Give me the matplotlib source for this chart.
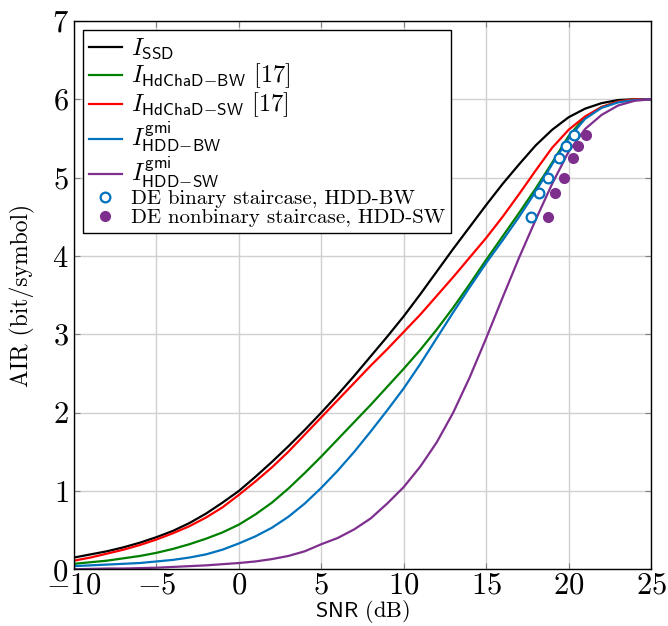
import matplotlib
matplotlib.use("Agg")
import matplotlib.pyplot as plt

plt.rcParams['font.family'] = ['cmr10']
plt.rcParams['mathtext.fontset'] = 'cm'
plt.rcParams['axes.formatter.use_mathtext'] = True
plt.rcParams['axes.unicode_minus'] = True

# SNR grid (dB)
snr = list(range(-10, 26))

# AIR curves (bit/symbol)
air_ssd = [0.15, 0.19, 0.23, 0.28, 0.34, 0.41, 0.49, 0.59, 0.71, 0.85,
           1.00, 1.18, 1.37, 1.57, 1.78, 2.00, 2.23, 2.47, 2.72, 2.97,
           3.23, 3.51, 3.80, 4.09, 4.37, 4.65, 4.92, 5.17, 5.41, 5.61,
           5.77, 5.88, 5.95, 5.99, 6.00, 6.00]
air_hdchad_bw = [0.07, 0.09, 0.11, 0.14, 0.17, 0.21, 0.26, 0.32, 0.39, 0.47,
                 0.57, 0.70, 0.85, 1.03, 1.23, 1.44, 1.66, 1.88, 2.10, 2.33,
                 2.56, 2.80, 3.06, 3.34, 3.64, 3.95, 4.25, 4.55, 4.86, 5.19,
                 5.53, 5.77, 5.90, 5.97, 6.00, 6.00]
air_hdchad_sw = [0.11, 0.15, 0.20, 0.25, 0.31, 0.38, 0.46, 0.55, 0.66, 0.79,
                 0.95, 1.12, 1.30, 1.50, 1.72, 1.94, 2.16, 2.38, 2.60, 2.81,
                 3.03, 3.25, 3.49, 3.73, 3.98, 4.23, 4.50, 4.79, 5.09, 5.38,
                 5.61, 5.78, 5.90, 5.97, 6.00, 6.00]
air_gmi_bw = [0.04, 0.05, 0.06, 0.07, 0.08, 0.10, 0.12, 0.15, 0.19, 0.25,
              0.33, 0.42, 0.53, 0.67, 0.84, 1.04, 1.26, 1.50, 1.76, 2.03,
              2.31, 2.62, 2.95, 3.28, 3.60, 3.91, 4.20, 4.50, 4.82, 5.17,
              5.50, 5.75, 5.89, 5.96, 5.99, 6.00]
air_gmi_sw = [0.00, 0.005, 0.01, 0.01, 0.015, 0.02, 0.03, 0.04, 0.05, 0.065,
              0.08, 0.10, 0.13, 0.17, 0.23, 0.32, 0.40, 0.51, 0.65, 0.84,
              1.05, 1.31, 1.62, 2.00, 2.45, 2.95, 3.47, 3.98, 4.46, 4.92,
              5.33, 5.62, 5.80, 5.92, 5.98, 6.00]

# density evolution thresholds
de_bin_snr = [17.7, 18.2, 18.75, 19.4, 19.85, 20.35]
de_bin_air = [4.5, 4.8, 5.0, 5.25, 5.4, 5.55]
de_nb_snr = [18.75, 19.2, 19.7, 20.25, 20.55, 21.05]
de_nb_air = [4.5, 4.8, 5.0, 5.25, 5.4, 5.55]

blue = '#0072BD'
purple = '#7E2F8E'

fig = plt.figure(figsize=(6.68, 6.26), dpi=100)
ax = fig.add_axes([0.1108, 0.0906, 0.8638, 0.876])

lw = 1.6
ax.plot(snr, air_ssd, color='black', lw=lw, label=r'$I_{\mathsf{SSD}}$')
ax.plot(snr, air_hdchad_bw, color='#008000', lw=lw,
        label=r'$I_{\mathsf{HdChaD}\!-\!\mathsf{BW}}$ [17]')
ax.plot(snr, air_hdchad_sw, color='red', lw=lw,
        label=r'$I_{\mathsf{HdChaD}\!-\!\mathsf{SW}}$ [17]')
ax.plot(snr, air_gmi_bw, color=blue, lw=lw,
        label=r'$I^{\mathsf{gmi}}_{\mathsf{HDD}\!-\!\mathsf{BW}}$')
ax.plot(snr, air_gmi_sw, color=purple, lw=lw,
        label=r'$I^{\mathsf{gmi}}_{\mathsf{HDD}\!-\!\mathsf{SW}}$')
ax.plot(de_bin_snr, de_bin_air, 'o', ms=7, mfc='white', mec=blue, mew=1.6,
        label='DE binary staircase, HDD-BW')
ax.plot(de_nb_snr, de_nb_air, 'o', ms=7, color=purple,
        label='DE nonbinary staircase, HDD-SW')

ax.set_xlim(-10, 25)
ax.set_ylim(0, 7)
ax.set_xticks(range(-10, 26, 5))
ax.set_yticks(range(0, 8))
ax.grid(True, color='#d0d0d0', lw=1)
ax.set_axisbelow(True)
ax.tick_params(direction='in', length=4, color='#808080', labelsize=22,
               top=True, right=True)
ax.tick_params(axis='x', pad=2)
ax.tick_params(axis='y', pad=4)
for s in ax.spines.values():
    s.set_color('black')
    s.set_linewidth(1)

ax.set_xlabel(r'$\mathsf{SNR}$ (dB)', fontsize=16)
ax.set_ylabel('AIR (bit/symbol)', fontsize=17)
ax.xaxis.set_label_coords(0.5, -0.052)
ax.yaxis.set_label_coords(-0.068, 0.5)

leg = ax.legend(loc='upper left', bbox_to_anchor=(0.0156, 0.983),
                borderaxespad=0, fontsize=15, handlelength=1.55,
                handletextpad=0.45, labelspacing=0.02, borderpad=0.3,
                fancybox=False, framealpha=1, edgecolor='black')
leg.get_frame().set_linewidth(1)
# the math entries are set a bit larger, like in the original
for t in leg.get_texts()[:5]:
    t.set_fontsize(17.5)

fig.savefig('out.png', dpi=100)
